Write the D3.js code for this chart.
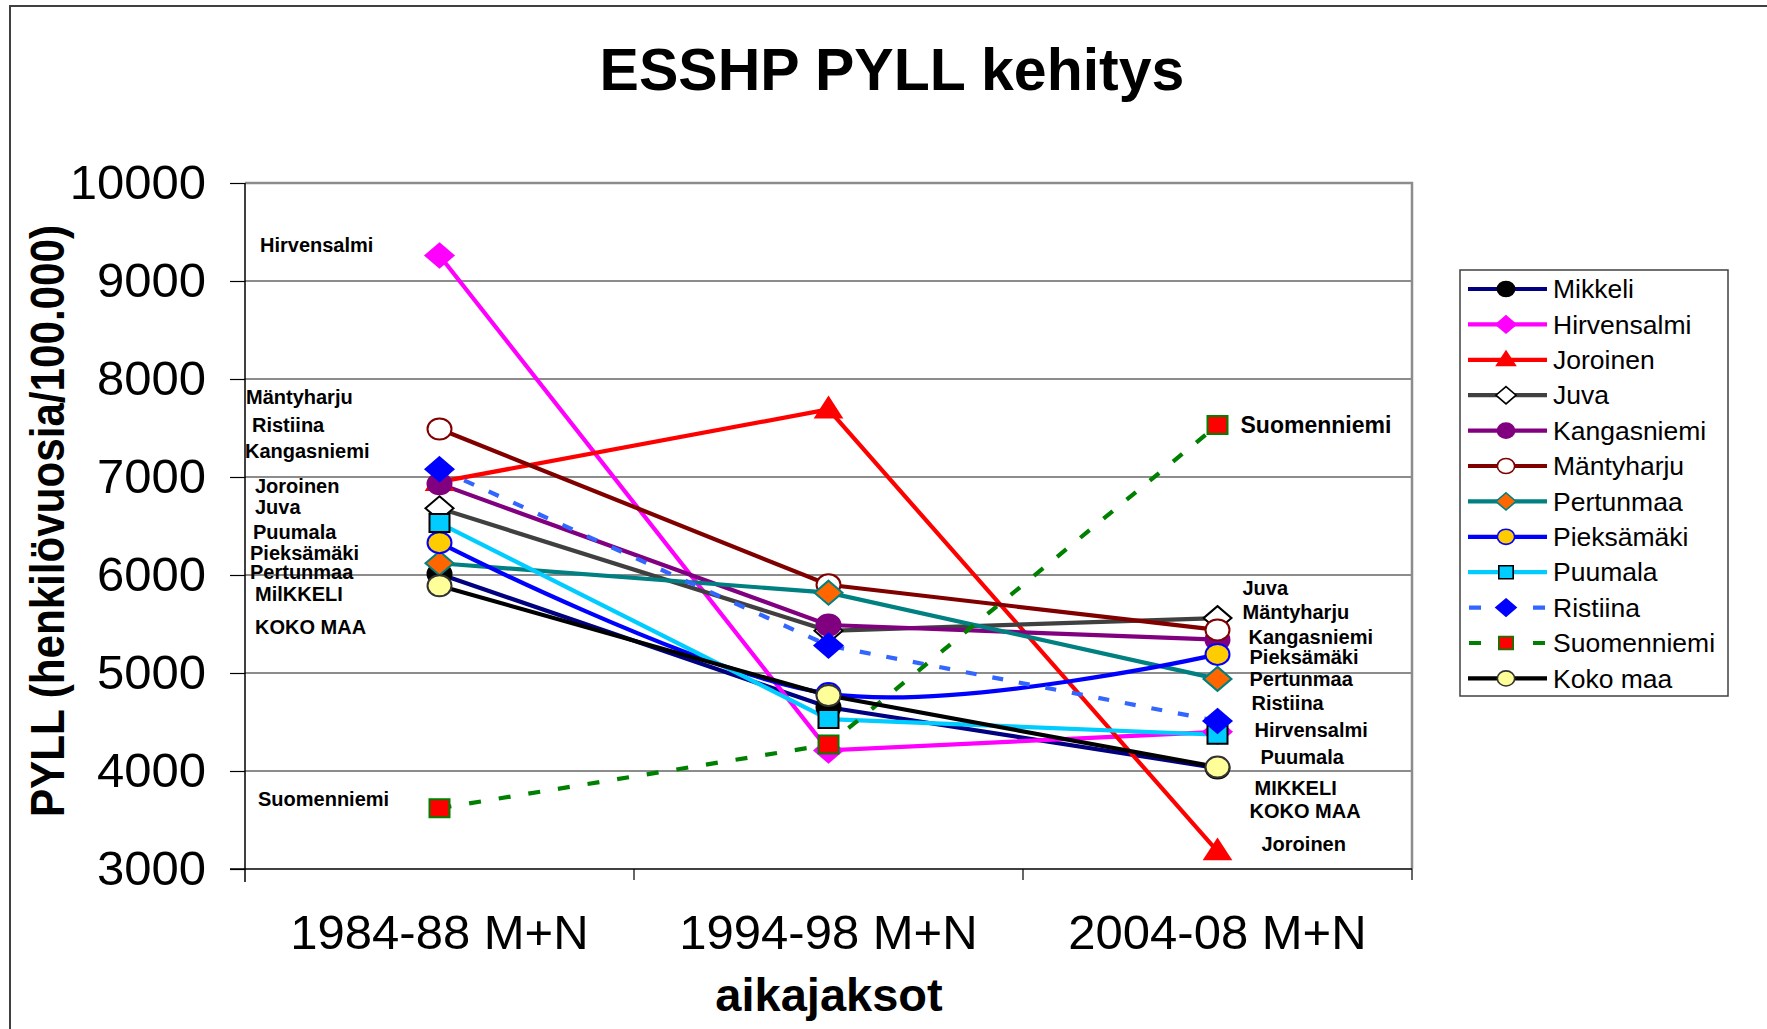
<!DOCTYPE html>
<html>
<head>
<meta charset="utf-8">
<script src="https://cdn.jsdelivr.net/npm/d3@7"></script>
<style>
  body { margin: 0; background: #fff; }
  svg { display: block; font-family: "Liberation Sans", Arial, sans-serif; }
</style>
</head>
<body>
<div id="chart"></div>
<script>
// data
const periods = ["1984-88 M+N", "1994-98 M+N", "2004-08 M+N"];
const yTicks = [3000, 4000, 5000, 6000, 7000, 8000, 9000, 10000];

const mikkeli     = [6010, 4650, 4030];
const hirvensalmi = [9260, 4210, 4400];
const joroinen    = [6950, 7690, 3180];
const juva        = [6680, 5430, 5560];
const kangasniemi = [6930, 5490, 5340];
const mantyharju  = [7490, 5900, 5440];
const pertunmaa   = [6120, 5820, 4940];
const pieksamaki  = [6330, 4790, 5190];
const puumala     = [6530, 4530, 4370];
const ristiina    = [7080, 5280, 4510];
const suomenniemi = [3620, 4270, 7530];
const kokoMaa     = [5890, 4770, 4040];

// text annotations beside the first and last period: [text, value level, x nudge]
const leftNotes = [
  ["Hirvensalmi", 9370, 15], ["Mäntyharju", 7820, 1], ["Ristiina", 7530, 7],
  ["Kangasniemi", 7265, 0], ["Joroinen", 6910, 10], ["Juva", 6695, 10],
  ["Puumala", 6440, 8], ["Pieksämäki", 6225, 5], ["Pertunmaa", 6030, 5],
  ["MilKKELI", 5805, 10], ["KOKO MAA", 5470, 10], ["Suomenniemi", 3715, 13]
];
const rightNotes = [
  ["Juva", 5867, 25], ["Mäntyharju", 5622, 25],
  ["Kangasniemi", 5367, 31], ["Pieksämäki", 5163, 32], ["Pertunmaa", 4939, 32],
  ["Ristiina", 4694, 34], ["Hirvensalmi", 4418, 37], ["Puumala", 4143, 43],
  ["MIKKELI", 3827, 37], ["KOKO MAA", 3592, 32], ["Joroinen", 3255, 44]
];
const endNote = ["Suomenniemi", 7530, 23];

const series = [
  { name: "Mikkeli",     values: mikkeli,     line: "#000080", shape: "circle",   fill: "#000000", stroke: "#000000" },
  { name: "Hirvensalmi", values: hirvensalmi, line: "#ff00ff", shape: "diamond",  fill: "#ff00ff", stroke: "#ff00ff" },
  { name: "Joroinen",    values: joroinen,    line: "#ff0000", shape: "triangle", fill: "#ff0000", stroke: "#ff0000" },
  { name: "Juva",        values: juva,        line: "#404040", shape: "diamond",  fill: "#ffffff", stroke: "#000000" },
  { name: "Kangasniemi", values: kangasniemi, line: "#800080", shape: "circle",   fill: "#800080", stroke: "#800080" },
  { name: "Mäntyharju",  values: mantyharju,  line: "#800000", shape: "circle",   fill: "#ffffff", stroke: "#800000" },
  { name: "Pertunmaa",   values: pertunmaa,   line: "#008080", shape: "diamond",  fill: "#ff6600", stroke: "#008080" },
  { name: "Pieksämäki",  values: pieksamaki,  line: "#0000ff", shape: "circle",   fill: "#ffcc00", stroke: "#0000ff", smooth: true },
  { name: "Puumala",     values: puumala,     line: "#00ccff", shape: "square",   fill: "#00ccff", stroke: "#000000" },
  { name: "Ristiina",    values: ristiina,    line: "#3366ff", shape: "diamond",  fill: "#0000ff", stroke: "#0000ff", dash: "11,16" },
  { name: "Suomenniemi", values: suomenniemi, line: "#008000", shape: "square",   fill: "#ff0000", stroke: "#008000", dash: "12,18" },
  { name: "Koko maa",    values: kokoMaa,     line: "#000000", shape: "circle",   fill: "#ffff99", stroke: "#333333" }
];

const W = 1767, H = 1029;
const plot = { left: 245, right: 1412, top: 183, bottom: 869 };

const svg = d3.select("#chart").append("svg")
  .attr("width", W).attr("height", H);

// outer frame
svg.append("path")
  .attr("d", `M10,${H} V6 H${W}`)
  .attr("fill", "none").attr("stroke", "#404040").attr("stroke-width", 2);

svg.append("text")
  .attr("x", 892).attr("y", 90)
  .attr("text-anchor", "middle")
  .attr("font-size", 59).attr("font-weight", "bold")
  .text("ESSHP PYLL kehitys");

const x = d3.scalePoint().domain(periods).range([plot.left, plot.right]).padding(0.5);
const y = d3.scaleLinear().domain([3000, 10000]).range([plot.bottom, plot.top]);
const step = x.step();

// gridlines
svg.append("g").selectAll("line")
  .data(yTicks.filter(t => t > 3000 && t < 10000))
  .enter().append("line")
  .attr("x1", plot.left).attr("x2", plot.right)
  .attr("y1", d => y(d)).attr("y2", d => y(d))
  .attr("stroke", "#1a1a1a").attr("stroke-width", 1.2);

// plot border top / right
svg.append("path")
  .attr("d", `M${plot.left},${plot.top} H${plot.right} V${plot.bottom}`)
  .attr("fill", "none").attr("stroke", "#8c8c8c").attr("stroke-width", 2.5);

// y axis
const yAxis = svg.append("g")
  .attr("transform", `translate(${plot.left},0)`)
  .call(d3.axisLeft(y).tickValues(yTicks).tickSize(15).tickPadding(24).tickFormat(d3.format("d")));
yAxis.select(".domain").attr("stroke", "#000").attr("stroke-width", 1.5)
  .attr("d", `M0,${plot.top}V${plot.bottom + 13}`);
yAxis.selectAll(".tick line").attr("stroke", "#000").attr("stroke-width", 1.2);
yAxis.selectAll(".tick text")
  .attr("font-size", 49).attr("font-family", "Liberation Sans, Arial, sans-serif")
  .attr("fill", "#000");

// x axis: ticks between categories, below the axis line
const bounds = [0, 1, 2, 3].map(i => plot.left + i * step);
const xg = svg.append("g");
xg.append("line")
  .attr("x1", plot.left - 15).attr("x2", plot.right)
  .attr("y1", plot.bottom).attr("y2", plot.bottom)
  .attr("stroke", "#000").attr("stroke-width", 1.5);
xg.selectAll(".bt").data(bounds.slice(1)).enter().append("line")
  .attr("x1", d => d).attr("x2", d => d)
  .attr("y1", plot.bottom).attr("y2", plot.bottom + 11)
  .attr("stroke", "#000").attr("stroke-width", 1.2);
xg.selectAll(".cl").data(periods).enter().append("text")
  .attr("x", d => x(d)).attr("y", 949)
  .attr("text-anchor", "middle").attr("font-size", 49)
  .text(d => d);

svg.append("text")
  .attr("x", 829).attr("y", 1011)
  .attr("text-anchor", "middle")
  .attr("font-size", 47).attr("font-weight", "bold")
  .text("aikajaksot");

svg.append("text")
  .attr("transform", "translate(64,521) rotate(-90)")
  .attr("text-anchor", "middle")
  .attr("font-size", 48).attr("font-weight", "bold")
  .attr("textLength", 592).attr("lengthAdjust", "spacingAndGlyphs")
  .text("PYLL (henkilövuosia/100.000)");

// marker shapes (slightly wider than tall, like the original)
function shapePath(shape, cx, cy, s) {
  const w = 12 * s, h = 10.5 * s;
  if (shape === "diamond") {
    const dw = 14 * s, dh = 12 * s;
    return `M${cx},${cy - dh}L${cx + dw},${cy}L${cx},${cy + dh}L${cx - dw},${cy}Z`;
  }
  if (shape === "square") {
    const sw = 10 * s, sh = 9 * s;
    return `M${cx - sw},${cy - sh}H${cx + sw}V${cy + sh}H${cx - sw}Z`;
  }
  if (shape === "triangle") {
    return `M${cx},${cy - 12 * s}L${cx + 13 * s},${cy + 8 * s}L${cx - 13 * s},${cy + 8 * s}Z`;
  }
  // ellipse
  return `M${cx - w},${cy}A${w},${h} 0 1,0 ${cx + w},${cy}A${w},${h} 0 1,0 ${cx - w},${cy}Z`;
}

// lines
const lineGen = d3.line().x((d, i) => x(periods[i])).y(d => y(d));
const smoothGen = d3.line().x((d, i) => x(periods[i])).y(d => y(d)).curve(d3.curveCardinal.tension(0));

svg.append("g").selectAll("path")
  .data(series).enter().append("path")
  .attr("d", s => (s.smooth ? smoothGen : lineGen)(s.values))
  .attr("fill", "none")
  .attr("stroke", s => s.line)
  .attr("stroke-width", 4.2)
  .attr("stroke-dasharray", s => s.dash || null);

// markers
const mk = svg.append("g");
series.forEach(s => {
  s.values.forEach((v, i) => {
    mk.append("path")
      .attr("d", shapePath(s.shape, x(periods[i]), y(v), 1))
      .attr("fill", s.fill)
      .attr("stroke", s.stroke)
      .attr("stroke-width", 2);
  });
});

// annotations
const notes = svg.append("g").attr("font-size", 20).attr("font-weight", "bold");
notes.selectAll(".ln").data(leftNotes).enter().append("text")
  .attr("x", d => plot.left + d[2])
  .attr("y", d => y(d[1]))
  .attr("dy", "0.35em")
  .text(d => d[0]);
notes.selectAll(".rn").data(rightNotes).enter().append("text")
  .attr("x", d => x(periods[2]) + d[2])
  .attr("y", d => y(d[1]))
  .attr("dy", "0.35em")
  .text(d => d[0]);
notes.append("text")
  .attr("x", x(periods[2]) + endNote[2])
  .attr("y", y(endNote[1]))
  .attr("dy", "0.35em")
  .attr("font-size", 23)
  .text(endNote[0]);

// legend
const lg = svg.append("g").attr("transform", "translate(1460,270)");
lg.append("rect")
  .attr("width", 268).attr("height", 426)
  .attr("fill", "#fff").attr("stroke", "#404040").attr("stroke-width", 1.5);
const rowH = 35.4;
series.forEach((s, i) => {
  const cy = 19 + i * rowH;
  lg.append("path")
    .attr("d", s.dash ? `M9,${cy}H21M73,${cy}H85` : `M8,${cy}H87`)
    .attr("stroke", s.line).attr("stroke-width", 4.2).attr("fill", "none");
  lg.append("path")
    .attr("d", shapePath(s.shape, 46, cy, 0.72))
    .attr("fill", s.fill).attr("stroke", s.stroke).attr("stroke-width", 1.6);
  lg.append("text")
    .attr("x", 93).attr("y", cy).attr("dy", "0.35em")
    .attr("font-size", 26.5)
    .text(s.name);
});
</script>
</body>
</html>
